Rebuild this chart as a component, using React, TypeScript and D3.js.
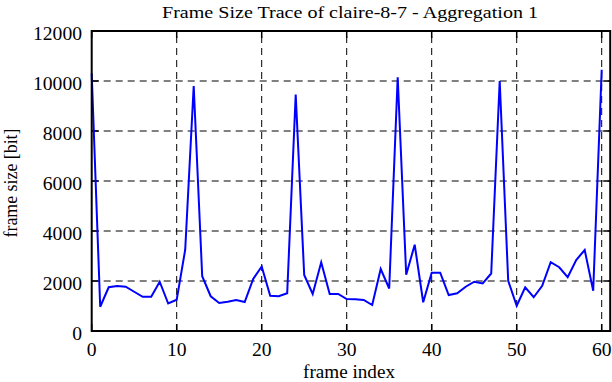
import React, { useEffect, useRef } from "react";
import * as d3 from "d3";

// frame size per frame index (bits)
const frameIndex = d3.range(0, 61);
const frameSize = [
  10300, 970, 1750, 1800, 1770, 1570, 1370, 1370, 1970, 1100,
  1250, 3250, 9800, 2190, 1390, 1120, 1170, 1240, 1160, 2080,
  2580, 1410, 1390, 1510, 9460, 2240, 1480, 2750, 1480, 1480,
  1280, 1270, 1240, 1040, 2480, 1700, 10150, 2250, 3450, 1150,
  2330, 2330, 1440, 1510, 1770, 1970, 1900, 2300, 10000, 2010,
  1010, 1750, 1350, 1810, 2750, 2550, 2150, 2840, 3240, 1610,
  10450,
];
const xTicks = [0, 10, 20, 30, 40, 50, 60];
const yTicks = [0, 2000, 4000, 6000, 8000, 10000, 12000];

const W = 612;
const H = 382;
const FONT = "'Liberation Serif', 'Times New Roman', serif";

const App = () => {
  const svgRef = useRef<SVGSVGElement>(null);

  useEffect(() => {
    const svg = d3.select(svgRef.current);
    svg.selectAll("*").remove();

    const x = d3.scaleLinear().domain([0, 61]).range([91.7, 610.2]);
    const y = d3.scaleLinear().domain([0, 12000]).range([331, 31]);
    const [x0, x1] = x.range();
    const [y0, y1] = y.range();

    // the original fonts are a bit wider than Liberation Serif, so stretch them
    const label = (sel, len: number) =>
      sel
        .style("font-family", FONT)
        .style("font-size", "18px")
        .attr("textLength", len)
        .attr("lengthAdjust", "spacingAndGlyphs");

    // title
    svg.append("text")
      .attr("x", 350)
      .attr("y", 18)
      .attr("text-anchor", "middle")
      .style("font-family", FONT)
      .style("font-size", "17px")
      .attr("textLength", 376)
      .attr("lengthAdjust", "spacingAndGlyphs")
      .text("Frame Size Trace of claire-8-7 - Aggregation 1");

    // dashed grid
    const grid = svg.append("g")
      .attr("stroke", "#000")
      .attr("stroke-width", 1)
      .attr("stroke-dasharray", "7,5");
    grid.selectAll(".gx")
      .data(xTicks.filter((d) => d > 0))
      .join("line")
      .attr("x1", (d) => x(d)).attr("x2", (d) => x(d))
      .attr("y1", y0).attr("y2", y1);
    grid.selectAll(".gy")
      .data(yTicks.filter((d) => d > 0 && d < 12000))
      .join("line")
      .attr("x1", x0).attr("x2", x1)
      .attr("y1", (d) => y(d)).attr("y2", (d) => y(d));

    // inward ticks on all four sides
    const ticks = svg.append("g").attr("stroke", "#000").attr("stroke-width", 1.5);
    xTicks.forEach((d) => {
      ticks.append("line").attr("x1", x(d)).attr("x2", x(d)).attr("y1", y0).attr("y2", y0 - 7);
      ticks.append("line").attr("x1", x(d)).attr("x2", x(d)).attr("y1", y1).attr("y2", y1 + 7);
    });
    yTicks.forEach((d) => {
      ticks.append("line").attr("x1", x0).attr("x2", x0 + 7).attr("y1", y(d)).attr("y2", y(d));
      ticks.append("line").attr("x1", x1).attr("x2", x1 - 7).attr("y1", y(d)).attr("y2", y(d));
    });

    // data line
    const line = d3.line<number>()
      .x((_, i) => x(frameIndex[i]))
      .y((d) => y(d));
    svg.append("path")
      .datum(frameSize)
      .attr("fill", "none")
      .attr("stroke", "#0000ff")
      .attr("stroke-width", 2)
      .attr("d", line);

    // border
    svg.append("rect")
      .attr("x", x0).attr("y", y1)
      .attr("width", x1 - x0).attr("height", y0 - y1)
      .attr("fill", "none")
      .attr("stroke", "#000")
      .attr("stroke-width", 2);

    // tick labels
    svg.append("g")
      .selectAll("text")
      .data(xTicks)
      .join("text")
      .attr("x", (d) => x(d))
      .attr("y", 356)
      .attr("text-anchor", "middle")
      .call(label, 0)
      .attr("textLength", (d) => String(d).length * 9.8)
      .text((d) => d);
    svg.append("g")
      .selectAll("text")
      .data(yTicks)
      .join("text")
      .attr("x", 82)
      .attr("y", (d) => y(d) + 8.5)
      .attr("text-anchor", "end")
      .call(label, 0)
      .attr("textLength", (d) => String(d).length * 9.8)
      .text((d) => d);

    // axis titles
    svg.append("text")
      .attr("x", 349)
      .attr("y", 378)
      .attr("text-anchor", "middle")
      .call(label, 92)
      .text("frame index");
    svg.append("text")
      .attr("transform", `translate(17,${(y0 + y1) / 2 + 2}) rotate(-90)`)
      .attr("text-anchor", "middle")
      .call(label, 109)
      .text("frame size [bit]");
  }, []);

  return (
    <svg
      ref={svgRef}
      width={W}
      height={H}
      style={{ position: "absolute", left: 0, top: 0, background: "#fff" }}
    />
  );
};

export default App;
